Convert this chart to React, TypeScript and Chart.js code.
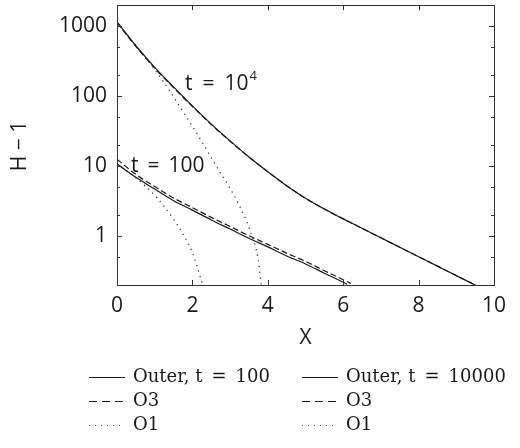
import React, { useEffect, useRef } from "react";
import { Chart, registerables } from "chart.js";

Chart.register(...registerables);

// X positions and H - 1 values for each curve
const x100Outer = [0, 0.5, 1, 1.5, 2, 2.5, 3, 3.5, 4, 4.5, 5, 5.5, 6, 6.1];
const h100Outer = [10.7, 6.9, 4.7, 3.2, 2.35, 1.7, 1.26, 0.93, 0.7, 0.52, 0.4, 0.295, 0.219, 0.206];

const x100O3 = [0, 0.5, 1, 1.5, 2, 2.5, 3, 3.5, 4, 4.5, 5, 5.5, 6, 6.1, 6.2];
const h100O3 = [12.5, 7.6, 5.1, 3.5, 2.55, 1.85, 1.37, 1.01, 0.76, 0.57, 0.435, 0.32, 0.238, 0.224, 0.21];

const x100O1 = [0, 0.25, 0.5, 0.75, 1, 1.25, 1.5, 1.75, 2, 2.25, 2.3];
const h100O1 = [10.7, 8.6, 6.8, 5.2, 3.8, 2.65, 1.75, 1.07, 0.58, 0.22, 0.18];

const x1e4Outer = [0, 0.5, 1, 1.5, 2, 2.5, 3, 3.5, 4, 4.5, 5, 5.5, 6, 6.5, 7, 7.5, 8, 8.5, 9, 9.5, 9.55];
const h1e4Outer = [1148, 525, 257, 135, 72.4, 39.8, 22.9, 13.5, 8.32, 5.25, 3.47, 2.43, 1.76, 1.29, 0.944, 0.692, 0.507, 0.372, 0.272, 0.2, 0.194];

const x1e4O3 = [0, 0.5, 1, 1.5, 2, 2.5, 3, 3.5, 4, 4.5, 5, 5.5, 6, 6.5, 7, 7.5, 8, 8.5, 9, 9.5, 9.55];
const h1e4O3 = [1120, 512, 251, 132, 71, 39.2, 22.6, 13.4, 8.3, 5.25, 3.47, 2.43, 1.76, 1.29, 0.944, 0.692, 0.507, 0.372, 0.272, 0.2, 0.194];

const x1e4O1 = [0, 0.5, 0.75, 1, 1.25, 1.5, 1.75, 2, 2.25, 2.5, 2.75, 3, 3.25, 3.5, 3.75, 3.83, 3.9];
const h1e4O1 = [1148, 525, 359, 240, 155, 98, 60, 37, 22.4, 13.2, 7.9, 4.8, 2.7, 1.32, 0.45, 0.2, 0.15];

// Axis ticks
const xTicks = [0, 2, 4, 6, 8, 10];
const yMajorTicks = [1, 10, 100, 1000];
const yMinorTicks = [0.5, 2, 5, 20, 50, 200, 500];

const legendLabels = ["Outer, t = 100", "O3", "O1", "Outer, t = 10000", "O3", "O1"];

const INK = "#1a1a1a";
const SANS = "'Open Sans', sans-serif";
const SERIF = "'DejaVu Serif', serif";

const SOLID: number[] = [];
const DASHED = [6, 3];
const DOTTED = [1.2, 4.5];

const toPoints = (xs: number[], ys: number[]) => xs.map((x, i) => ({ x, y: ys[i] }));

const series = [
  { label: legendLabels[0], xs: x100Outer, ys: h100Outer, dash: SOLID },
  { label: legendLabels[1], xs: x100O3, ys: h100O3, dash: DASHED },
  { label: legendLabels[2], xs: x100O1, ys: h100O1, dash: DOTTED },
  { label: legendLabels[3], xs: x1e4Outer, ys: h1e4Outer, dash: SOLID },
  { label: legendLabels[4], xs: x1e4O3, ys: h1e4O3, dash: DASHED },
  { label: legendLabels[5], xs: x1e4O1, ys: h1e4O1, dash: DOTTED },
];

// draws "a = b" with wide, math-style spacing around the equals sign; returns end x
function drawSpacedText(ctx: CanvasRenderingContext2D, text: string, x: number, y: number, gap: number) {
  const parts = text.split(" = ");
  let cx = x;
  parts.forEach((p, i) => {
    if (i > 0) {
      cx += gap;
      ctx.fillText("=", cx, y);
      cx += ctx.measureText("=").width + gap;
    }
    ctx.fillText(p, cx, y);
    cx += ctx.measureText(p).width;
  });
  return cx;
}

const framePlugin = {
  id: "frame",
  afterDraw(chart: any) {
    const { ctx, chartArea: a, scales } = chart;
    const xs = scales.x;
    const ys = scales.y;
    ctx.save();
    ctx.strokeStyle = "#333";
    ctx.lineWidth = 1;
    ctx.setLineDash([]);
    ctx.strokeRect(Math.round(a.left) + 0.5, Math.round(a.top) + 0.5, Math.round(a.right - a.left), Math.round(a.bottom - a.top));

    ctx.beginPath();
    for (const v of xTicks) {
      const px = Math.round(xs.getPixelForValue(v)) + 0.5;
      ctx.moveTo(px, a.bottom);
      ctx.lineTo(px, a.bottom - 5);
      ctx.moveTo(px, a.top);
      ctx.lineTo(px, a.top + 5);
    }
    const yTick = (v: number, len: number) => {
      const py = Math.round(ys.getPixelForValue(v)) + 0.5;
      ctx.moveTo(a.left, py);
      ctx.lineTo(a.left + len, py);
      ctx.moveTo(a.right, py);
      ctx.lineTo(a.right - len, py);
    };
    yMajorTicks.forEach((v) => yTick(v, 5));
    yMinorTicks.forEach((v) => yTick(v, 3));
    ctx.stroke();

    // curve annotations
    ctx.fillStyle = INK;
    ctx.textBaseline = "alphabetic";
    ctx.textAlign = "left";
    ctx.font = `21px ${SANS}`;
    const end = drawSpacedText(ctx, "t = 10", 185, 90, 10);
    ctx.font = `13px ${SANS}`;
    ctx.fillText("4", end + 1, 80);
    ctx.font = `21px ${SANS}`;
    drawSpacedText(ctx, "t = 100", 131, 172, 9);

    // axis titles
    ctx.font = `21px ${SANS}`;
    ctx.textAlign = "center";
    ctx.textBaseline = "middle";
    ctx.fillText("X", (a.left + a.right) / 2, 338);
    ctx.save();
    ctx.translate(20, 146);
    ctx.rotate(-Math.PI / 2);
    ctx.fillText("H \u2212 1", 0, 0);
    ctx.restore();

    // legend: two columns of three rows
    const cols = [
      { x: 89, items: [0, 1, 2] },
      { x: 302, items: [3, 4, 5] },
    ];
    const rows = [377, 401, 425];
    const legendDash = [SOLID, [8, 5], [1, 5]];
    ctx.textAlign = "left";
    ctx.textBaseline = "middle";
    ctx.font = `18px ${SERIF}`;
    cols.forEach((c) => {
      c.items.forEach((di, r) => {
        const y = rows[r] + 0.5;
        ctx.beginPath();
        ctx.setLineDash(legendDash[r]);
        ctx.lineWidth = r === 2 ? 1 : 1.2;
        ctx.strokeStyle = r === 2 ? "#555" : INK;
        ctx.moveTo(c.x, y);
        ctx.lineTo(c.x + 36, y);
        ctx.stroke();
        ctx.setLineDash([]);
        drawSpacedText(ctx, series[di].label, c.x + 44, rows[r], 9);
      });
    });
    ctx.restore();
  },
};

export default function App() {
  const ref = useRef<HTMLCanvasElement | null>(null);
  useEffect(() => {
    if (!ref.current) return;
    const chart = new Chart(ref.current, {
      type: "line",
      data: {
        datasets: series.map((s) => ({
          label: s.label,
          data: toPoints(s.xs, s.ys),
          borderColor: s.dash === DOTTED ? "#333" : INK,
          borderWidth: s.dash === DOTTED ? 1.3 : 1.2,
          borderDash: s.dash,
          pointRadius: 0,
          fill: false,
          cubicInterpolationMode: "monotone" as const,
        })),
      },
      plugins: [framePlugin],
      options: {
        responsive: false,
        animation: false,
        events: [],
        layout: { padding: { left: 0, top: 5, right: 26, bottom: 123 } },
        plugins: { legend: { display: false }, tooltip: { enabled: false } },
        scales: {
          x: {
            type: "linear",
            min: 0,
            max: 10,
            afterBuildTicks: (s: any) => {
              s.ticks = xTicks.map((v) => ({ value: v }));
            },
            afterFit: (s: any) => {
              s.height = 40;
              s.paddingLeft = 0;
              s.paddingRight = 0;
            },
            grid: { display: false, drawTicks: false },
            border: { display: false },
            ticks: {
              color: INK,
              font: { family: SANS, size: 21 },
              padding: 8,
              maxRotation: 0,
              autoSkip: false,
            },
          },
          y: {
            type: "logarithmic",
            min: 0.2,
            max: 2000,
            afterBuildTicks: (s: any) => {
              s.ticks = yMajorTicks.map((v) => ({ value: v, major: true }));
            },
            afterFit: (s: any) => {
              s.width = 117;
              s.paddingTop = 0;
              s.paddingBottom = 0;
            },
            grid: { display: false, drawTicks: false },
            border: { display: false },
            ticks: {
              color: INK,
              font: { family: SANS, size: 21 },
              padding: 10,
              autoSkip: false,
              callback: (v: any) => String(v),
            },
          },
        },
      },
    });
    return () => chart.destroy();
  }, []);
  return (
    <div style={{ position: "fixed", left: 0, top: 0, width: 520, height: 448, background: "#fff" }}>
      <canvas ref={ref} width={520} height={448} style={{ width: 520, height: 448, display: "block" }} />
    </div>
  );
}
